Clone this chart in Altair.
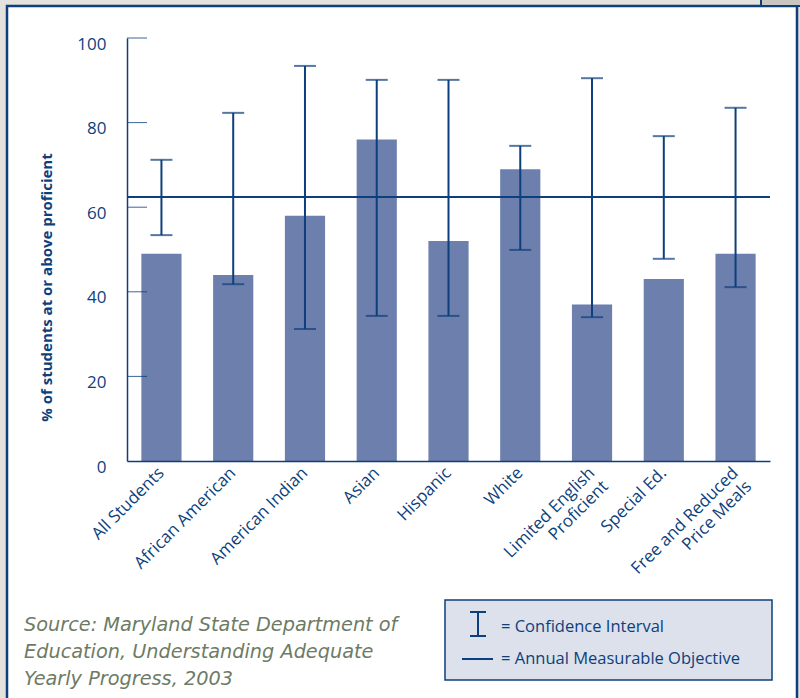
import altair as alt
import pandas as pd

# ---- data ----
categories = ["All Students", "African American", "American Indian", "Asian", "Hispanic",
              "White", "Limited English|Proficient", "Special Ed.", "Free and Reduced|Price Meals"]
pct_proficient = [49.0, 44.0, 58.0, 76.0, 52.0, 69.0, 37.0, 43.0, 49.0]
ci_low = [53.4, 41.8, 31.2, 34.3, 34.3, 49.9, 34.0, 47.8, 41.1]
ci_high = [71.2, 82.3, 93.4, 90.1, 90.1, 74.5, 90.5, 76.8, 83.5]
amo = [62.4]
y_ticks = [20, 40, 60, 80, 100]
y_labels = [0, 20, 40, 60, 80, 100]

source_text = "Source: Maryland State Department of\nEducation, Understanding Adequate\nYearly Progress, 2003"
legend_ci = "= Confidence Interval"
legend_amo = "= Annual Measurable Objective"
y_title = "% of students at or above proficient"

NAVY = "#0d3f7c"
BAR = "#6d7fad"
FONT = "Open Sans"

df = pd.DataFrame({"group": categories, "pct": pct_proficient, "lo": ci_low, "hi": ci_high})
amo_df = pd.DataFrame({"amo": amo})
tick_df = pd.DataFrame({"t": y_ticks})
one = pd.DataFrame({"k": [0]})

yscale = alt.Scale(domain=[0, 100], nice=False)
xscale = alt.Scale(paddingInner=0.44, paddingOuter=0.2)

x_axis = alt.Axis(title=None, labelAngle=-45, labelAlign="right", labelBaseline="middle",
                  labelPadding=9, labelFontSize=17, labelColor=NAVY, labelFont=FONT,
                  labelExpr="split(datum.label, '|')", labelLineHeight=19,
                  ticks=False, grid=False, domainColor=NAVY, domainWidth=1.5, labelLimit=300,
                  zindex=1)
y_axis = alt.Axis(title=y_title, values=y_labels,
                  ticks=False, grid=False, labelOffset=6, labelPadding=21, labelFontSize=17,
                  labelColor=NAVY, labelFont=FONT, domainColor=NAVY, domainWidth=1.5,
                  titleFont=FONT, titleFontSize=15, titleFontWeight="bold", titleColor=NAVY,
                  titlePadding=22, titleY=249, zindex=1)

def X():
    return alt.X("group:N", sort=categories, scale=xscale, axis=x_axis)

def Y(field):
    return alt.Y(field, scale=yscale, axis=y_axis)

bars = alt.Chart(df).mark_bar(color=BAR).encode(x=X(), y=Y("pct:Q"))

inner_ticks = alt.Chart(tick_df).mark_rule(color=NAVY, strokeWidth=1, opacity=0.8).encode(
    y=Y("t:Q"), x=alt.value(0), x2=alt.value(20))

amo_line = alt.Chart(amo_df).mark_rule(color=NAVY, strokeWidth=2).encode(y=Y("amo:Q"))

err = alt.Chart(df).mark_rule(color=NAVY, strokeWidth=2).encode(x=X(), y=Y("lo:Q"), y2="hi:Q")
cap_lo = alt.Chart(df).mark_tick(color=NAVY, thickness=2, size=22, orient="horizontal").encode(
    x=X(), y=Y("lo:Q"))
cap_hi = alt.Chart(df).mark_tick(color=NAVY, thickness=2, size=22, orient="horizontal").encode(
    x=X(), y=Y("hi:Q"))

# ---- page frame, source note and legend (pixel positions relative to the plot origin) ----
frame = alt.Chart(one).mark_rect(fill="white", stroke=NAVY, strokeWidth=2.5).encode(
    x=alt.value(-120), x2=alt.value(670), y=alt.value(-32), y2=alt.value(690))
corner = alt.Chart(one).mark_rect(fill="#c9c6bf", stroke=NAVY, strokeWidth=2).encode(
    x=alt.value(634), x2=alt.value(680), y=alt.value(-42), y2=alt.value(-32))

source = alt.Chart(one).mark_text(
    text=source_text, lineBreak="\n", lineHeight=27, align="left", baseline="middle",
    font="DejaVu Sans", fontStyle="italic", fontSize=19.3, color="#6e7b64"
).encode(x=alt.value(-103), y=alt.value(587))

leg_box = alt.Chart(one).mark_rect(fill="#dce1ec", stroke=NAVY, strokeWidth=1.5).encode(
    x=alt.value(318), x2=alt.value(645), y=alt.value(562), y2=alt.value(642))
leg_i = alt.Chart(one).mark_rule(color=NAVY, strokeWidth=2).encode(
    x=alt.value(351), y=alt.value(574), y2=alt.value(598))
leg_i_top = alt.Chart(one).mark_rule(color=NAVY, strokeWidth=2).encode(
    x=alt.value(343), x2=alt.value(359), y=alt.value(574))
leg_i_bot = alt.Chart(one).mark_rule(color=NAVY, strokeWidth=2).encode(
    x=alt.value(343), x2=alt.value(359), y=alt.value(598))
leg_line = alt.Chart(one).mark_rule(color=NAVY, strokeWidth=2).encode(
    x=alt.value(335), x2=alt.value(366), y=alt.value(621))
leg_t1 = alt.Chart(one).mark_text(text=legend_ci, align="left", baseline="middle", font=FONT,
                                  fontSize=16.5, color=NAVY).encode(x=alt.value(374), y=alt.value(589))
leg_t2 = alt.Chart(one).mark_text(text=legend_amo, align="left", baseline="middle", font=FONT,
                                  fontSize=16.5, color=NAVY).encode(x=alt.value(374), y=alt.value(621))

chart = alt.layer(
    frame, corner, bars, inner_ticks, amo_line, err, cap_lo, cap_hi,
    source, leg_box, leg_i, leg_i_top, leg_i_bot, leg_line, leg_t1, leg_t2
).properties(
    width=643, height=423,
    padding={"left": 127, "top": 38, "right": 30, "bottom": 237},
    autosize=alt.AutoSizeParams(type="none"),
    background="#e3e2dd",
).configure_view(stroke=None)

chart.save("out.html", embed_options={"renderer": "svg", "actions": False})
